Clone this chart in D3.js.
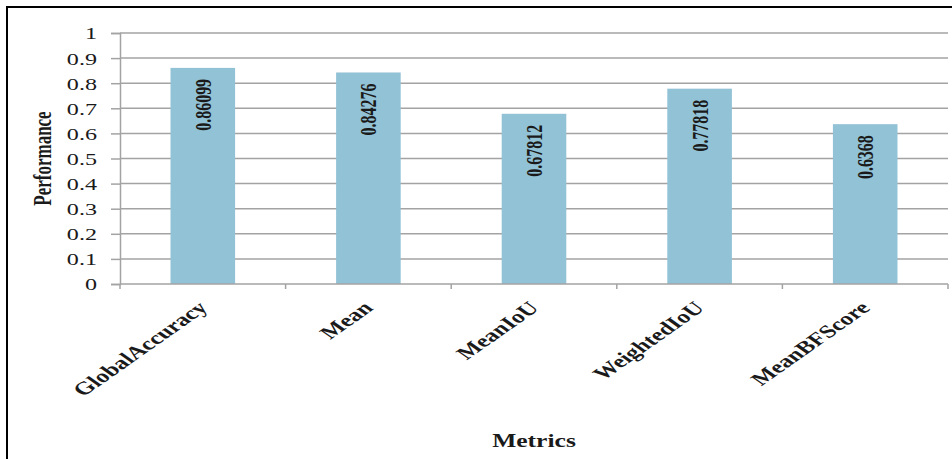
<!DOCTYPE html>
<html>
<head>
<meta charset="utf-8">
<script src="https://cdn.jsdelivr.net/npm/d3@7"></script>
<style>
  html, body { margin: 0; padding: 0; background: #fff; }
  svg { display: block; }
  text { font-family: "Liberation Serif", "Times New Roman", serif; fill: #1a1a1a; }
</style>
</head>
<body>
<svg id="chart" width="952" height="459"></svg>
<script>
const categories = ["GlobalAccuracy", "Mean", "MeanIoU", "WeightedIoU", "MeanBFScore"];
const values = [0.86099, 0.84276, 0.67812, 0.77818, 0.6368];
const valueLabels = ["0.86099", "0.84276", "0.67812", "0.77818", "0.6368"];
const yTicks = [0, 0.1, 0.2, 0.3, 0.4, 0.5, 0.6, 0.7, 0.8, 0.9, 1];
const yTickLabels = ["0", "0.1", "0.2", "0.3", "0.4", "0.5", "0.6", "0.7", "0.8", "0.9", "1"];
const yTitle = "Performance";
const xTitle = "Metrics";

const sx = 1.42; // horizontal stretch of the original image text
const svg = d3.select("#chart");
const W = 952, H = 459;
const plot = { left: 120, right: 948, top: 33, bottom: 284 };

svg.append("rect").attr("width", W).attr("height", H).attr("fill", "#fff");
// frame (left and top edges visible)
svg.append("rect").attr("x", 7).attr("y", 7).attr("width", W + 20).attr("height", H + 20)
  .attr("fill", "none").attr("stroke", "#000").attr("stroke-width", 2);

const x = d3.scaleBand().domain(categories).range([plot.left, plot.right]).paddingInner(0.61).paddingOuter(0.305);
const xEdges = d3.scaleLinear().domain([0, categories.length]).range([plot.left, plot.right]);
const y = d3.scaleLinear().domain([0, 1]).range([plot.bottom, plot.top]);

const gridColor = "#a3a3a3";

// gridlines
svg.append("g").selectAll("line").data(yTicks.filter(d => d > 0)).join("line")
  .attr("x1", plot.left).attr("x2", plot.right)
  .attr("y1", d => y(d)).attr("y2", d => y(d))
  .attr("stroke", gridColor).attr("stroke-width", 1.5);

// y axis
const yAxis = svg.append("g").attr("transform", `translate(${plot.left},0)`)
  .call(d3.axisLeft(y).tickValues(yTicks).tickSize(9).tickFormat((d, i) => yTickLabels[i]));
yAxis.select(".domain").attr("stroke", gridColor).attr("stroke-width", 1.5);
yAxis.selectAll(".tick line").attr("stroke", gridColor).attr("stroke-width", 1.5);
yAxis.selectAll(".tick text")
  .attr("x", null).attr("dy", null)
  .attr("transform", `translate(-23,0) scale(${sx},1)`)
  .attr("dy", "0.35em")
  .style("font-size", "17px").attr("fill", "#1a1a1a").attr("text-anchor", "end");

// bars
svg.append("g").selectAll("rect").data(values).join("rect")
  .attr("x", (d, i) => x(categories[i]))
  .attr("width", x.bandwidth())
  .attr("y", d => y(d))
  .attr("height", d => y(0) - y(d))
  .attr("fill", "#92c2d5");

// x axis line + ticks at category edges
svg.append("line").attr("x1", plot.left).attr("x2", plot.right)
  .attr("y1", plot.bottom).attr("y2", plot.bottom)
  .attr("stroke", gridColor).attr("stroke-width", 1.5);
svg.append("g").selectAll("line").data(d3.range(categories.length + 1)).join("line")
  .attr("x1", d => xEdges(d)).attr("x2", d => xEdges(d))
  .attr("y1", plot.bottom).attr("y2", plot.bottom + 5)
  .attr("stroke", gridColor).attr("stroke-width", 1.5);

// x labels
svg.append("g").selectAll("text").data(categories).join("text")
  .attr("transform", d => `translate(${x(d) + x.bandwidth() / 2 + 6},309) scale(${sx},1) rotate(-45)`)
  .attr("text-anchor", "end")
  .style("font-size", "18px").style("font-weight", "bold")
  .text(d => d);

// value labels
svg.append("g").selectAll("text").data(values).join("text")
  .attr("transform", (d, i) => `translate(${x(categories[i]) + x.bandwidth() / 2},${y(d) + 11}) scale(${sx},1) rotate(-90)`)
  .attr("text-anchor", "end").attr("dy", "0.35em")
  .style("font-size", "16px").style("font-weight", "bold")
  .text((d, i) => valueLabels[i]);

// axis titles
svg.append("text")
  .attr("transform", `translate(43,${(plot.top + plot.bottom) / 2}) scale(${sx},1) rotate(-90)`)
  .attr("text-anchor", "middle").attr("dy", "0.35em")
  .style("font-size", "17px").style("font-weight", "bold")
  .text(yTitle);

svg.append("text")
  .attr("transform", `translate(${(plot.left + plot.right) / 2},447) scale(${sx},1)`)
  .attr("text-anchor", "middle")
  .style("font-size", "18px").style("font-weight", "bold")
  .text(xTitle);
</script>
</body>
</html>
